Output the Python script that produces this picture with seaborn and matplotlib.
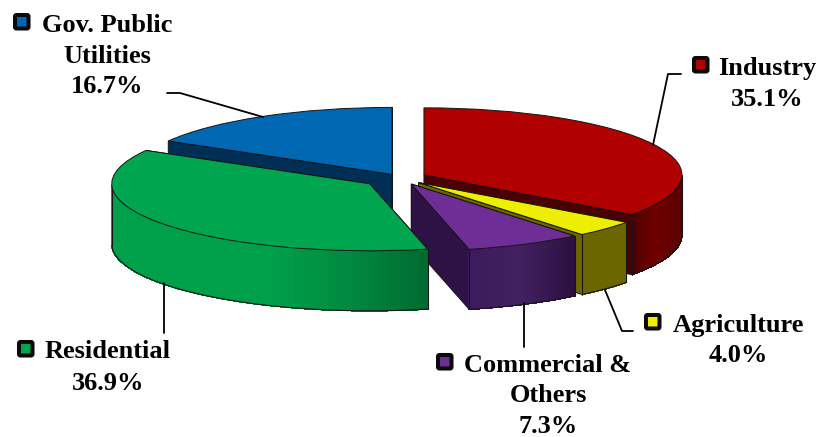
#Pie chart "3D" with exploded slices
import matplotlib
matplotlib.use("Agg")
import matplotlib.pyplot as plt
from matplotlib.patches import FancyBboxPatch
from matplotlib.transforms import Affine2D
import numpy as np
import seaborn as sns

sns.set_theme(style="white")
plt.rcParams['font.family'] = ['Liberation Serif', 'DejaVu Serif']

# Data, clockwise from twelve o'clock
categories = ["Industry", "Agriculture", "Commercial &\nOthers", "Residential", "Gov. Public\nUtilities"]
shares = [35.1, 4.0, 7.3, 36.9, 16.7]

# Styles
explode = [0.104, 0.10, 0.10, 0.146, 0.062]
top_colors = ["#B00000", "#EEEE00", "#6F2E96", "#00A54F", "#0067B2"]
face_colors = ["#4A0000", "#6B6600", "#2E1245", "#006B30", "#002F56"]
wall_stops = [
    ["#4E0000", "#700000", "#5A0000"],
    ["#6B6600", "#6B6600"],
    ["#3D1A5C", "#43205F", "#2B1040"],
    ["#00A04B", "#00A04B", "#00A04B", "#008A40", "#006B30"],
    ["#002F56", "#002F56"],
]
# painter order (back to front), same index as categories
draw_rank = [1, 2, 3, 4, 0]

# Layout in pixels of the picture
W, H = 821, 437
CX, CY, RX, RY = 400, 178, 258, 67
DEPTH = 60 / RY

label_x = [767, 738, 548, 108, 107]
label_base = [[75, 106], [332, 362], [372, 402, 433], [358, 390], [32, 63, 93]]
marker_xy = [(692, 56), (644, 313), (436, 353), (17, 340), (13, 13)]
leaders = [
    [(681, 74), (668, 74), (653, 145)],
    [(633, 331), (622, 331), (605, 290)],
    [(524, 303), (524, 347)],
    [(164, 283), (164, 333)],
    [(167, 93), (180, 93), (263, 117)],
]

fig = plt.figure(figsize=(W / 100, H / 100), dpi=100)
ax = fig.add_axes([0, 0, 1, 1])

wedges, _ = ax.pie(shares, explode=explode, colors=top_colors, startangle=90, counterclock=False,
                   wedgeprops={"edgecolor": "#151515", "linewidth": 0.7})
ax.set_aspect("auto")
ax.set_xlim((0 - CX) / RX, (W - CX) / RX)
ax.set_ylim((CY - H) / RY, CY / RY)
ax.axis("off")

for i, w in enumerate(wedges):
    z = 10 * (draw_rank[i] + 1)
    w.set_zorder(z + 2)
    cx, cy = w.center
    r = w.r
    # flat cut faces first, the one further back before the nearer one
    for t in sorted((w.theta1, w.theta2), key=lambda a: -np.sin(np.radians(a))):
        ex, ey = cx + r * np.cos(np.radians(t)), cy + r * np.sin(np.radians(t))
        ax.fill([cx, ex, ex, cx], [cy, ey, ey - DEPTH, cy - DEPTH], facecolor=face_colors[i],
                edgecolor="#151515", linewidth=0.7, zorder=z)
    # outer wall, only the part looking at the viewer
    ang = np.linspace(w.theta1, w.theta2, 90)
    ang = ang[np.sin(np.radians(ang)) < 0]
    if len(ang) > 1:
        xs = cx + r * np.cos(np.radians(ang))
        ys = cy + r * np.sin(np.radians(ang))
        cmap = sns.blend_palette(wall_stops[i], as_cmap=True)
        span = max(xs.max() - xs.min(), 1e-6)
        for k in range(len(ang) - 1):
            c = cmap((xs[k] + xs[k + 1] - 2 * xs.min()) / (2 * span))
            ax.fill([xs[k], xs[k + 1], xs[k + 1], xs[k]],
                    [ys[k], ys[k + 1], ys[k + 1] - DEPTH, ys[k] - DEPTH],
                    facecolor=c, edgecolor=c, linewidth=0.5, antialiased=False, zorder=z + 1)
        # outline of the wall
        ax.plot(xs, ys - DEPTH, color="#151515", lw=0.8, zorder=z + 1)
        ax.plot([xs[0], xs[0]], [ys[0], ys[0] - DEPTH], color="#151515", lw=0.8, zorder=z + 1)
        ax.plot([xs[-1], xs[-1]], [ys[-1], ys[-1] - DEPTH], color="#151515", lw=0.8, zorder=z + 1)

# pixel coordinates with y going down, for labels
px = Affine2D().scale(1 / W, -1 / H).translate(0, 1) + fig.transFigure

for i, cat in enumerate(categories):
    lines = cat.split("\n") + [f"{shares[i]:.1f}%"]
    for line, base in zip(lines, label_base[i]):
        fig.text(label_x[i], base, line, transform=px, ha="center", va="baseline",
                 fontsize=19, fontweight="bold", color="black")
    # small key square
    mx, my = marker_xy[i]
    fig.add_artist(FancyBboxPatch((mx + 2, my + 2), 13.5, 13.5, boxstyle="round,pad=0,rounding_size=1.5",
                                  transform=px, facecolor=top_colors[i], edgecolor="#0A0A0A", linewidth=2.9))
    xs, ys = zip(*leaders[i])
    fig.add_artist(plt.Line2D(xs, ys, transform=px, color="black", lw=1.3))

fig.savefig("out.png", dpi=100)
